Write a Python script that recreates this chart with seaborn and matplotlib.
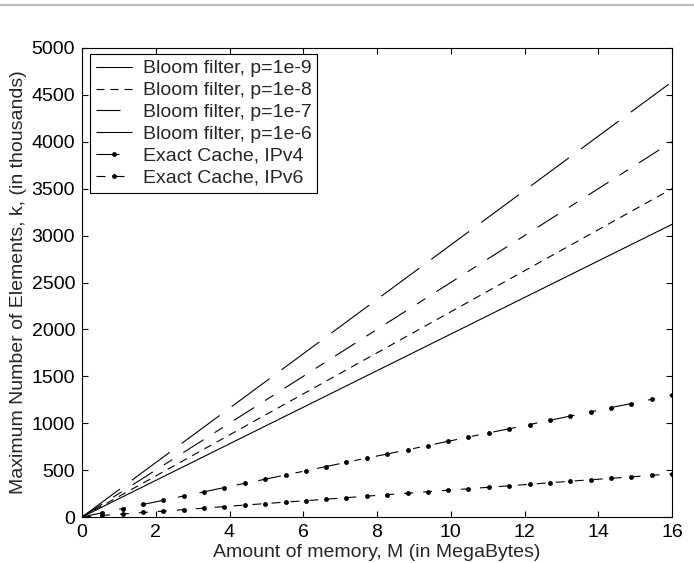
import matplotlib
matplotlib.use("Agg")
import seaborn as sns
from matplotlib import pyplot as plt
from matplotlib.lines import Line2D

# memory in MB
bloom_x = [0, 4, 8, 12, 16]
bloom_1e9 = [0, 780, 1560, 2340, 3120]
bloom_1e8 = [0, 875, 1750, 2625, 3500]
bloom_1e7 = [0, 1000, 2000, 3000, 4000]
bloom_1e6 = [0, 1160, 2320, 3480, 4640]

cache_x = [0, 0.55, 1.10, 1.66, 2.21, 2.76, 3.31, 3.86, 4.41, 4.97, 5.52,
           6.07, 6.62, 7.17, 7.72, 8.28, 8.83, 9.38, 9.93, 10.48, 11.03,
           11.59, 12.14, 12.69, 13.24, 13.79, 14.34, 14.90, 15.45, 16.0]
cache_ipv4 = [0, 45, 90, 134, 179, 224, 269, 314, 359, 403, 448, 493, 538,
              583, 628, 672, 717, 762, 807, 852, 897, 941, 986, 1031, 1076,
              1121, 1166, 1210, 1255, 1300]
cache_ipv6 = [0, 16, 32, 48, 63, 79, 95, 111, 127, 143, 159, 174, 190, 206,
              222, 238, 254, 270, 286, 301, 317, 333, 349, 365, 381, 397,
              412, 428, 444, 460]

x_ticks = list(range(0, 17, 2))
y_ticks = list(range(0, 5001, 500))

FS = 14


def px(*vals):
    # pixel lengths -> points at 100 dpi
    return tuple(v * 0.72 for v in vals)


def main():
    sns.set_style("ticks")
    plt.rcParams["font.family"] = ["Liberation Sans", "DejaVu Sans"]
    plt.rcParams["lines.scale_dashes"] = False
    plt.rcParams["font.size"] = FS

    fig = plt.figure(figsize=(6.94, 5.63), dpi=100)
    # axes frame: x 82..672 px, y 48..517 px
    ax = fig.add_axes([82 / 694, 1 - 517 / 563, 590 / 694, 469 / 563])

    lw = 0.8
    series = [
        (bloom_x, bloom_1e9, "Bloom filter, p=1e-9", "-", None),
        (bloom_x, bloom_1e8, "Bloom filter, p=1e-8", (0, px(8, 6)), None),
        (bloom_x, bloom_1e7, "Bloom filter, p=1e-7", (0, px(24, 13, 10, 13)), None),
        (bloom_x, bloom_1e6, "Bloom filter, p=1e-6", (0, px(47, 15)), None),
        (cache_x, cache_ipv4, "Exact Cache, IPv4", (0, px(23, 15, 7, 15)), "o"),
        (cache_x, cache_ipv6, "Exact Cache, IPv6", (0, px(9, 10)), "o"),
    ]
    for xs, ys, label, ls, mk in series:
        sns.lineplot(
            x=xs, y=ys, ax=ax, color="black", linewidth=lw, linestyle=ls,
            marker=mk, markersize=3.5, markeredgewidth=0, label=label,
        )

    ax.set_xlim(0, 16)
    ax.set_ylim(0, 5000)
    ax.set_xticks(x_ticks)
    ax.set_yticks(y_ticks)
    ax.tick_params(direction="in", top=True, right=True, length=4, width=0.8,
                   labelsize=FS, colors="black", pad=5)
    for sp in ax.spines.values():
        sp.set_visible(True)
        sp.set_linewidth(0.8)
        sp.set_color("black")
    ax.set_xlabel("Amount of memory, M (in MegaBytes)", fontsize=FS, labelpad=2)
    ax.set_ylabel("Maximum Number of Elements, k, (in thousands)", fontsize=FS,
                  labelpad=3)

    leg = ax.legend(loc="upper left", bbox_to_anchor=(8 / 590, 1 - 6 / 469),
                    borderaxespad=0, fontsize=FS, frameon=True, fancybox=False,
                    edgecolor="black", framealpha=1, handlelength=1.86,
                    handletextpad=0.55, borderpad=0.3, labelspacing=0.22)
    leg.get_frame().set_linewidth(0.8)

    # grey rule at the top of the page
    fig.add_artist(Line2D([0, 1], [1 - 4.5 / 563, 1 - 4.5 / 563], color="#bdbdbd",
                          linewidth=1.6, transform=fig.transFigure))

    fig.savefig("out.png", dpi=100)


if __name__ == "__main__":
    main()
